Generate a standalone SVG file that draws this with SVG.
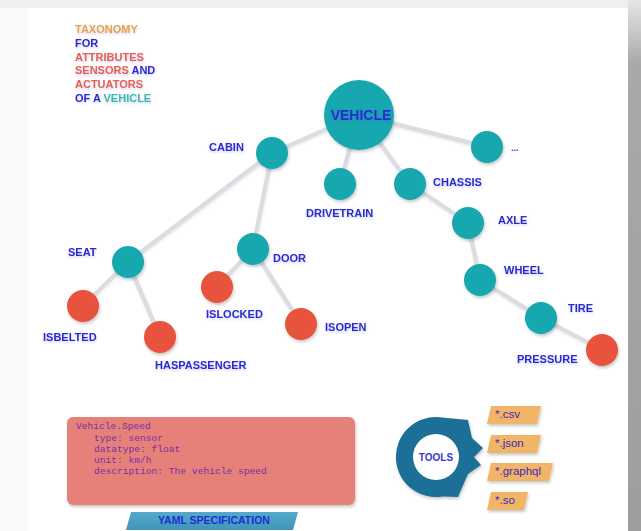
<svg xmlns="http://www.w3.org/2000/svg" width="641" height="531" viewBox="0 0 641 531">
  <defs>
    <filter id="soft" x="-30%" y="-30%" width="160%" height="160%">
      <feDropShadow dx="1" dy="2" stdDeviation="1.5" flood-color="#000" flood-opacity="0.22"/>
    </filter>
    <filter id="faint" x="-10%" y="-10%" width="120%" height="120%">
      <feDropShadow dx="0.5" dy="1.5" stdDeviation="1" flood-color="#000" flood-opacity="0.08"/>
    </filter>
    <filter id="glow" x="-10%" y="-30%" width="120%" height="160%">
      <feDropShadow dx="0.5" dy="1.5" stdDeviation="1" flood-color="#4a4ad0" flood-opacity="0.25"/>
    </filter>
    <linearGradient id="leftShade" x1="0" y1="0" x2="1" y2="0">
      <stop offset="0" stop-color="#fbfbfb"/>
      <stop offset="0.6" stop-color="#f1f1f1"/>
      <stop offset="1" stop-color="#e9e9e9"/>
    </linearGradient>
    <linearGradient id="rightBar" x1="0" y1="0" x2="0" y2="1">
      <stop offset="0" stop-color="#e6e6e6"/>
      <stop offset="0.12" stop-color="#a9a9a9"/>
      <stop offset="1" stop-color="#9e9e9e"/>
    </linearGradient>
    <linearGradient id="banner" x1="0" y1="0" x2="0" y2="1">
      <stop offset="0" stop-color="#55aacb"/>
      <stop offset="1" stop-color="#3f96b8"/>
    </linearGradient>
  </defs>
  <style>
    .lbl { font-family: "Liberation Sans", Arial, sans-serif; font-weight: bold; font-size: 11px; fill: #2b2bd2; }
    .big { font-size: 14px; }
    .tiny { font-size: 9px; }
    .ttl { font-family: "Liberation Sans", Arial, sans-serif; font-weight: bold; font-size: 11px; }
    .edge { stroke: #dcdce3; stroke-width: 4.5; stroke-linecap: round; fill: none; }
    .sig { fill: #19a7af; }
    .leaf { fill: #e8523d; }
    .yaml { font-family: "Liberation Mono", "Courier New", monospace; font-size: 9.6px; fill: #7b2ea4; }
    .tag { fill: #f2b466; }
    .tagt { font-family: "Liberation Sans", Arial, sans-serif; font-size: 11.5px; fill: #3b2ab8; }
  </style>

  <!-- page backdrop -->
  <rect x="0" y="0" width="641" height="531" fill="url(#leftShade)"/>
  <rect x="0" y="0" width="641" height="8" fill="#efefef"/>
  <rect x="28" y="8" width="601" height="523" fill="#ffffff"/>
  <rect x="628" y="0" width="13" height="531" fill="url(#rightBar)"/>

  <!-- title -->
  <g id="title" filter="url(#glow)">
    <text class="ttl" x="75" y="33" fill="#e9a346">TAXONOMY</text>
    <text class="ttl" x="75" y="47" fill="#2b2bd2">FOR</text>
    <text class="ttl" x="75" y="61" fill="#e8604c">ATTRIBUTES</text>
    <text class="ttl" x="75" y="74"><tspan fill="#e8604c">SENSORS </tspan><tspan fill="#2b2bd2">AND</tspan></text>
    <text class="ttl" x="75" y="88" fill="#e8604c">ACTUATORS</text>
    <text class="ttl" x="75" y="102"><tspan fill="#2b2bd2">OF A </tspan><tspan fill="#3bb8b0">VEHICLE</tspan></text>
  </g>

  <!-- tree connectors -->
  <g id="connectors" filter="url(#faint)">
    <line class="edge" x1="359" y1="115" x2="272" y2="153"/>
    <line class="edge" x1="359" y1="115" x2="340" y2="184"/>
    <line class="edge" x1="359" y1="115" x2="410" y2="184"/>
    <line class="edge" x1="359" y1="115" x2="487" y2="147"/>
    <line class="edge" x1="272" y1="153" x2="128" y2="262"/>
    <line class="edge" x1="272" y1="153" x2="253" y2="249"/>
    <line class="edge" x1="128" y1="262" x2="83" y2="306"/>
    <line class="edge" x1="128" y1="262" x2="160" y2="337"/>
    <line class="edge" x1="253" y1="249" x2="217" y2="287"/>
    <line class="edge" x1="253" y1="249" x2="301" y2="324"/>
    <line class="edge" x1="410" y1="184" x2="468" y2="223"/>
    <line class="edge" x1="468" y1="223" x2="480" y2="280"/>
    <line class="edge" x1="480" y1="280" x2="541" y2="318"/>
    <line class="edge" x1="541" y1="318" x2="602" y2="350"/>
  </g>

  <!-- nodes -->
  <g id="vehicle"><circle class="sig" cx="359" cy="115" r="35" filter="url(#soft)"/><text class="lbl big" x="361" y="120" text-anchor="middle" filter="url(#glow)">VEHICLE</text></g>
  <g id="more"><circle class="sig" cx="487" cy="147" r="16" filter="url(#soft)"/><text class="lbl tiny" x="511" y="151">...</text></g>
  <g id="cabin"><circle class="sig" cx="272" cy="153" r="16" filter="url(#soft)"/><text class="lbl" x="209" y="151" filter="url(#glow)">CABIN</text></g>
  <g id="drivetrain"><circle class="sig" cx="340" cy="184" r="16" filter="url(#soft)"/><text class="lbl" x="306" y="217" filter="url(#glow)">DRIVETRAIN</text></g>
  <g id="chassis"><circle class="sig" cx="410" cy="184" r="16" filter="url(#soft)"/><text class="lbl" x="433" y="186" filter="url(#glow)">CHASSIS</text></g>
  <g id="axle"><circle class="sig" cx="468" cy="223" r="16" filter="url(#soft)"/><text class="lbl" x="498" y="224" filter="url(#glow)">AXLE</text></g>
  <g id="wheel"><circle class="sig" cx="480" cy="280" r="16" filter="url(#soft)"/><text class="lbl" x="504" y="274" filter="url(#glow)">WHEEL</text></g>
  <g id="tire"><circle class="sig" cx="541" cy="318" r="16" filter="url(#soft)"/><text class="lbl" x="568" y="312" filter="url(#glow)">TIRE</text></g>
  <g id="pressure"><circle class="leaf" cx="602" cy="350" r="16" filter="url(#soft)"/><text class="lbl" x="517" y="363" filter="url(#glow)">PRESSURE</text></g>
  <g id="seat"><circle class="sig" cx="128" cy="262" r="16" filter="url(#soft)"/><text class="lbl" x="68" y="256" filter="url(#glow)">SEAT</text></g>
  <g id="isbelted"><circle class="leaf" cx="83" cy="306" r="16" filter="url(#soft)"/><text class="lbl" x="43" y="341" filter="url(#glow)">ISBELTED</text></g>
  <g id="haspassenger"><circle class="leaf" cx="160" cy="337" r="16" filter="url(#soft)"/><text class="lbl" x="155" y="369" filter="url(#glow)">HASPASSENGER</text></g>
  <g id="door"><circle class="sig" cx="253" cy="249" r="16" filter="url(#soft)"/><text class="lbl" x="273" y="262" filter="url(#glow)">DOOR</text></g>
  <g id="islocked"><circle class="leaf" cx="217" cy="287" r="16" filter="url(#soft)"/><text class="lbl" x="206" y="318" filter="url(#glow)">ISLOCKED</text></g>
  <g id="isopen"><circle class="leaf" cx="301" cy="324" r="16" filter="url(#soft)"/><text class="lbl" x="325" y="331" filter="url(#glow)">ISOPEN</text></g>

  <!-- YAML specification card -->
  <g id="yaml-spec">
    <rect x="67" y="417" width="288" height="88" rx="6" fill="#e6817a" filter="url(#soft)"/>
    <text class="yaml" x="76" y="429">Vehicle.Speed</text>
    <text class="yaml" x="94" y="441">type: sensor</text>
    <text class="yaml" x="94" y="452">datatype: float</text>
    <text class="yaml" x="94" y="463">unit: km/h</text>
    <text class="yaml" x="94" y="474">description: The vehicle speed</text>
  </g>
  <g id="yaml-banner">
    <polygon points="131,512 298,512 293,530 126,530" fill="url(#banner)"/>
    <text class="lbl" x="214" y="524" text-anchor="middle" style="font-size:10.5px;fill:#1f2ed4">YAML SPECIFICATION</text>
  </g>

  <!-- tools head -->
  <g id="tools">
    <path d="M439.5,417.2 A40,40 0 1 0 443,496.4 L458,497 L468,474 L481,465 L474,457 L483,448 L472,438 L468,420 Z" fill="#1b6f97" filter="url(#soft)"/>
    <circle cx="436" cy="457" r="23" fill="#ffffff"/>
    <text class="lbl" x="436" y="461" text-anchor="middle" style="font-size:10px;fill:#3a3ad0">TOOLS</text>
  </g>

  <!-- output formats -->
  <g id="fmt-csv"><polygon class="tag" points="491,406 541,406 537,424 487,424" filter="url(#soft)"/><text class="tagt" x="495" y="418">*.csv</text></g>
  <g id="fmt-json"><polygon class="tag" points="491,435 541,435 537,453 487,453" filter="url(#soft)"/><text class="tagt" x="495" y="447">*.json</text></g>
  <g id="fmt-graphql"><polygon class="tag" points="491,463 553,463 549,481 487,481" filter="url(#soft)"/><text class="tagt" x="495" y="475">*.graphql</text></g>
  <g id="fmt-so"><polygon class="tag" points="491,492 528,492 524,510 487,510" filter="url(#soft)"/><text class="tagt" x="495" y="504">*.so</text></g>
</svg>
